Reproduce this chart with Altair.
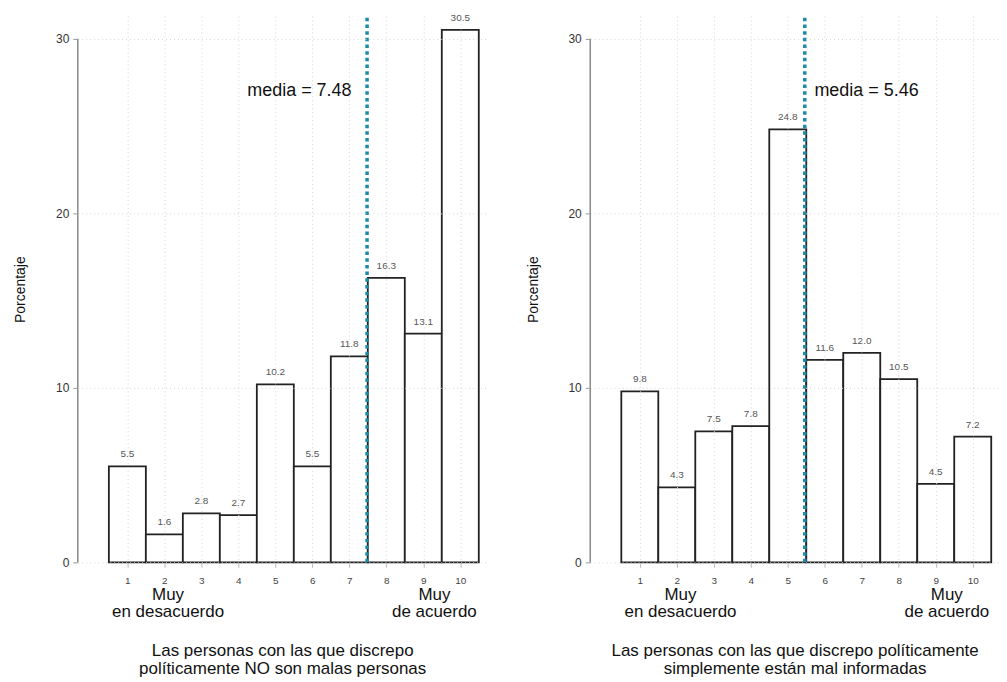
import altair as alt
import pandas as pd

categories = [1, 2, 3, 4, 5, 6, 7, 8, 9, 10]
values_left = [5.5, 1.6, 2.8, 2.7, 10.2, 5.5, 11.8, 16.3, 13.1, 30.5]
values_right = [9.8, 4.3, 7.5, 7.8, 24.8, 11.6, 12.0, 10.5, 4.5, 7.2]
mean_left = 7.48
mean_right = 5.46
title_left = ["Las personas con las que discrepo", "políticamente NO son malas personas"]
title_right = ["Las personas con las que discrepo políticamente", "simplemente están mal informadas"]
y_ticks = [0, 10, 20, 30]
anchor_texts = ["Muy\nen desacuerdo", "Muy\nde acuerdo"]
anchor_pos = [2.1, 9.3]

W, H = 410, 548
XDOM = [-0.34, 10.71]
YDOM = [0, 31.3]
FONT = "Liberation Sans"
MEAN_COLOR = "#1d8aa8"
GRID = "#d4d4d4"


def panel(values, mean, title, side):
    df = pd.DataFrame({
        "cat": categories,
        "val": values,
        "lo": [c - 0.5 for c in categories],
        "hi": [c + 0.5 for c in categories],
        "lab": [f"{v:.1f}" for v in values],
    })
    xs = alt.Scale(domain=XDOM, nice=False, zero=False)
    ys = alt.Scale(domain=YDOM, nice=False, zero=False)
    ax_x = alt.Axis(
        values=categories, title=title, grid=True, gridDash=[1, 3], gridColor=GRID,
        domain=False, tickSize=5, tickColor="#bbb", labelFontSize=10, labelColor="#444",
        labelPadding=8, titlePadding=57, titleFontSize=17, titleFontWeight="normal",
        titleColor="#111", zindex=1, labelFont=FONT, titleFont=FONT, titleLineHeight=19)
    ax_y = alt.Axis(
        values=y_ticks, title="Porcentaje", grid=True, gridDash=[1, 3], gridColor=GRID,
        domain=False, tickSize=5, tickColor="#999", labelFontSize=12, labelColor="#333",
        labelPadding=4, titlePadding=28, titleFontSize=14, titleFontWeight="normal",
        titleColor="#111", zindex=1, labelFont=FONT, titleFont=FONT)

    def X(f):
        return alt.X(f, scale=xs, axis=ax_x, title=title)

    def Y(f):
        return alt.Y(f, scale=ys, axis=ax_y, title="Porcentaje")

    bars = alt.Chart(df).mark_bar(fill="white", stroke="#222", strokeWidth=1.8).encode(
        x=X("lo:Q"), x2="hi:Q", y=Y("val:Q"), y2=alt.datum(0),
    )

    labels = alt.Chart(df).mark_text(dy=-12, fontSize=10, color="#555", font=FONT).encode(
        x=X("cat:Q"), y=Y("val:Q"), text="lab:N",
    )

    yline = alt.Chart(pd.DataFrame({"a": [0], "b": [30]})).mark_rule(color="#8a8a8a", strokeWidth=1.5).encode(
        x=alt.value(0), y=Y("a:Q"), y2="b:Q",
    )

    mdf = pd.DataFrame({"m": [mean], "a": [0], "b": [31.2]})
    mrule = alt.Chart(mdf).mark_rule(color=MEAN_COLOR, strokeWidth=3.5, strokeDash=[3.5, 3.2]).encode(
        x=X("m:Q"), y=Y("a:Q"), y2="b:Q",
    )

    if side == "left":
        tdf = pd.DataFrame({"x": [mean - 0.42], "y": [27], "t": [f"media = {mean:.2f}"]})
        align = "right"
    else:
        tdf = pd.DataFrame({"x": [mean + 0.26], "y": [27], "t": [f"media = {mean:.2f}"]})
        align = "left"
    mtext = alt.Chart(tdf).mark_text(align=align, baseline="middle", fontSize=18, color="#111", font=FONT).encode(
        x=X("x:Q"), y=Y("y:Q"), text="t:N",
    )

    adf = pd.DataFrame({"x": anchor_pos, "t": anchor_texts})
    anchors = alt.Chart(adf).mark_text(
        align="center", baseline="alphabetic", fontSize=17, lineHeight=17, lineBreak="\n",
        color="#111", font=FONT).encode(
        x=X("x:Q"), y=alt.value(H + 38), text="t:N",
    )

    return alt.layer(bars, labels, yline, mrule, mtext, anchors).properties(width=W, height=H)


chart = alt.hconcat(
    panel(values_left, mean_left, title_left, "left"),
    panel(values_right, mean_right, title_right, "right"),
    spacing=39,
).properties(
    padding={"left": 5, "top": 4, "right": 0, "bottom": 0}
).configure(
    font=FONT
).configure_view(
    strokeWidth=0, stroke="transparent"
)

chart.save("out.html", embed_options={"renderer": "svg", "actions": False})
